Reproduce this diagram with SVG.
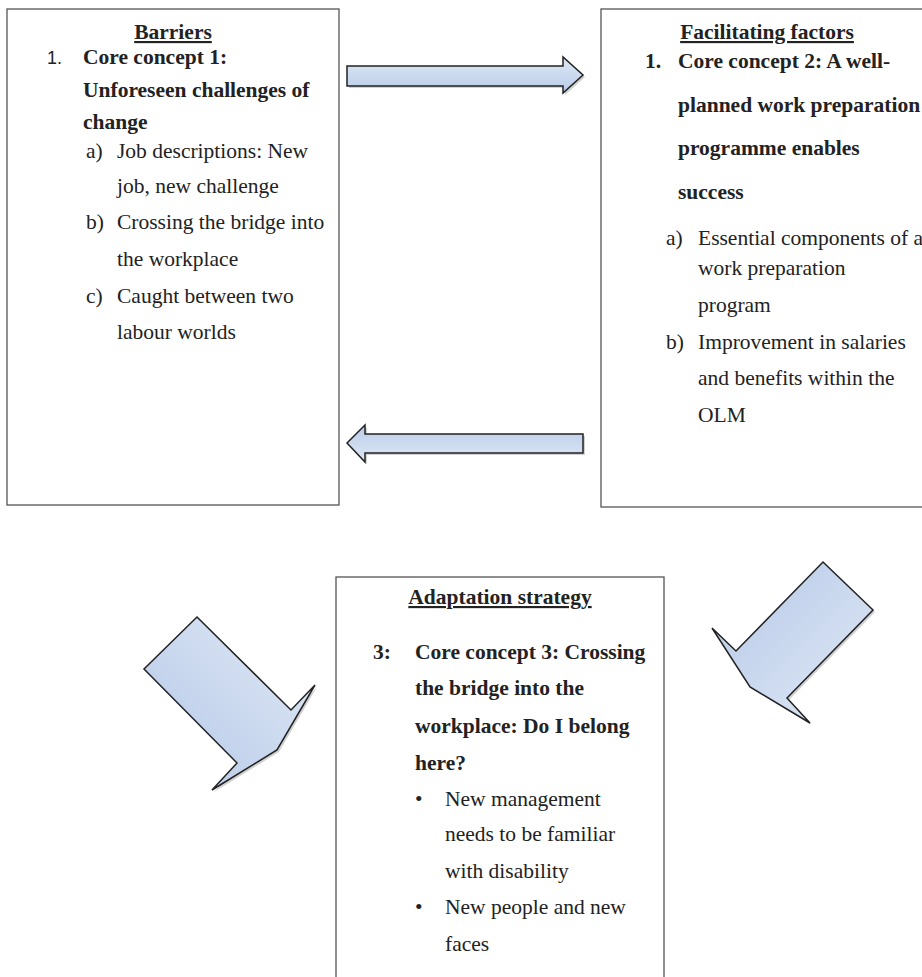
<svg xmlns="http://www.w3.org/2000/svg" width="922" height="977" viewBox="0 0 922 977">
<style>
.box{fill:#fff;stroke:#555;stroke-width:1.3}
.t{font-family:"Liberation Serif","Times New Roman",serif;font-size:21.5px;fill:#222}
.b{font-weight:bold}
.h{font-weight:bold;text-decoration:underline;text-anchor:middle}
.n{font-family:"Liberation Sans",Arial,sans-serif;font-size:18px;fill:#222}
.arr{stroke:#222;stroke-width:1.5;stroke-linejoin:miter}
.sh{fill:#000;opacity:0.18}
</style>
<defs>
<linearGradient id="gR" x1="0" y1="0" x2="0" y2="1"><stop offset="0" stop-color="#dfe8f6"/><stop offset="1" stop-color="#b8cce8"/></linearGradient>
<linearGradient id="gL" x1="0" y1="0" x2="0" y2="1"><stop offset="0" stop-color="#b8cce8"/><stop offset="1" stop-color="#dfe8f6"/></linearGradient>
<linearGradient id="gDR" x1="0" y1="1" x2="1" y2="0"><stop offset="0" stop-color="#b3c7e6"/><stop offset="1" stop-color="#e2eaf7"/></linearGradient>
<linearGradient id="gDL" x1="0" y1="0" x2="1" y2="1"><stop offset="0" stop-color="#b3c7e6"/><stop offset="1" stop-color="#e2eaf7"/></linearGradient>
</defs>

<g id="barriers">
<rect class="box" x="7" y="9" width="332" height="496"/>
<text class="t h" x="173" y="39">Barriers</text>
<text class="n" x="47" y="64">1.</text>
<text class="t b" x="83" y="64">Core concept 1:</text>
<text class="t b" x="83" y="97">Unforeseen challenges of</text>
<text class="t b" x="83" y="129">change</text>
<text class="t" x="86" y="158">a)</text><text class="t" x="117" y="158">Job descriptions: New</text>
<text class="t" x="117" y="193">job, new challenge</text>
<text class="t" x="86" y="229">b)</text><text class="t" x="117" y="229">Crossing the bridge into</text>
<text class="t" x="117" y="266">the workplace</text>
<text class="t" x="86" y="303">c)</text><text class="t" x="117" y="303">Caught between two</text>
<text class="t" x="117" y="339">labour worlds</text>
</g>

<g id="facilitating">
<rect class="box" x="601" y="9" width="340" height="498"/>
<text class="t h" x="767" y="39">Facilitating factors</text>
<text class="t b" x="645" y="68">1.</text>
<text class="t b" x="678" y="68">Core concept 2: A well-</text>
<text class="t b" x="678" y="112">planned work preparation</text>
<text class="t b" x="678" y="155">programme enables</text>
<text class="t b" x="678" y="199">success</text>
<text class="t" x="666" y="245">a)</text><text class="t" x="698" y="245">Essential components of a</text>
<text class="t" x="698" y="275">work preparation</text>
<text class="t" x="698" y="312">program</text>
<text class="t" x="666" y="349">b)</text><text class="t" x="698" y="349">Improvement in salaries</text>
<text class="t" x="698" y="385">and benefits within the</text>
<text class="t" x="698" y="422">OLM</text>
</g>

<g id="adaptation">
<rect class="box" x="336" y="577" width="328" height="420"/>
<text class="t h" x="500" y="604">Adaptation strategy</text>
<text class="t b" x="373" y="659">3:</text>
<text class="t b" x="415" y="659">Core concept 3: Crossing</text>
<text class="t b" x="415" y="695">the bridge into the</text>
<text class="t b" x="415" y="733">workplace: Do I belong</text>
<text class="t b" x="415" y="770">here?</text>
<text class="t" x="415" y="806">•</text><text class="t" x="445" y="806">New management</text>
<text class="t" x="445" y="841">needs to be familiar</text>
<text class="t" x="445" y="878">with disability</text>
<text class="t" x="415" y="914">•</text><text class="t" x="445" y="914">New people and new</text>
<text class="t" x="445" y="951">faces</text>
</g>

<g id="connectors">
<polygon class="sh" points="349,68 565,68 565,59 585,77 565,95 565,88 349,88"/>
<polygon class="arr" fill="url(#gR)" points="347,66 563,66 563,57 583,75 563,93 563,86 347,86"/>
<polygon class="sh" points="349,445 367,427 367,436 585,436 585,455 367,455 367,464"/>
<polygon class="arr" fill="url(#gL)" points="347,443 365,425 365,434 583,434 583,453 365,453 365,462"/>
<polygon class="sh" points="199,619 293,712 317,687 279,752 214,792 239,765 146,671"/>
<polygon class="arr" fill="url(#gDR)" points="197,617 291,710 315,685 277,750 212,790 237,763 144,669"/>
<polygon class="sh" points="825,564 875,612 789,700 812,725 752,689 714,630 738,653"/>
<polygon class="arr" fill="url(#gDL)" points="823,562 873,610 787,698 810,723 750,687 712,628 736,651"/>
</g>
</svg>
